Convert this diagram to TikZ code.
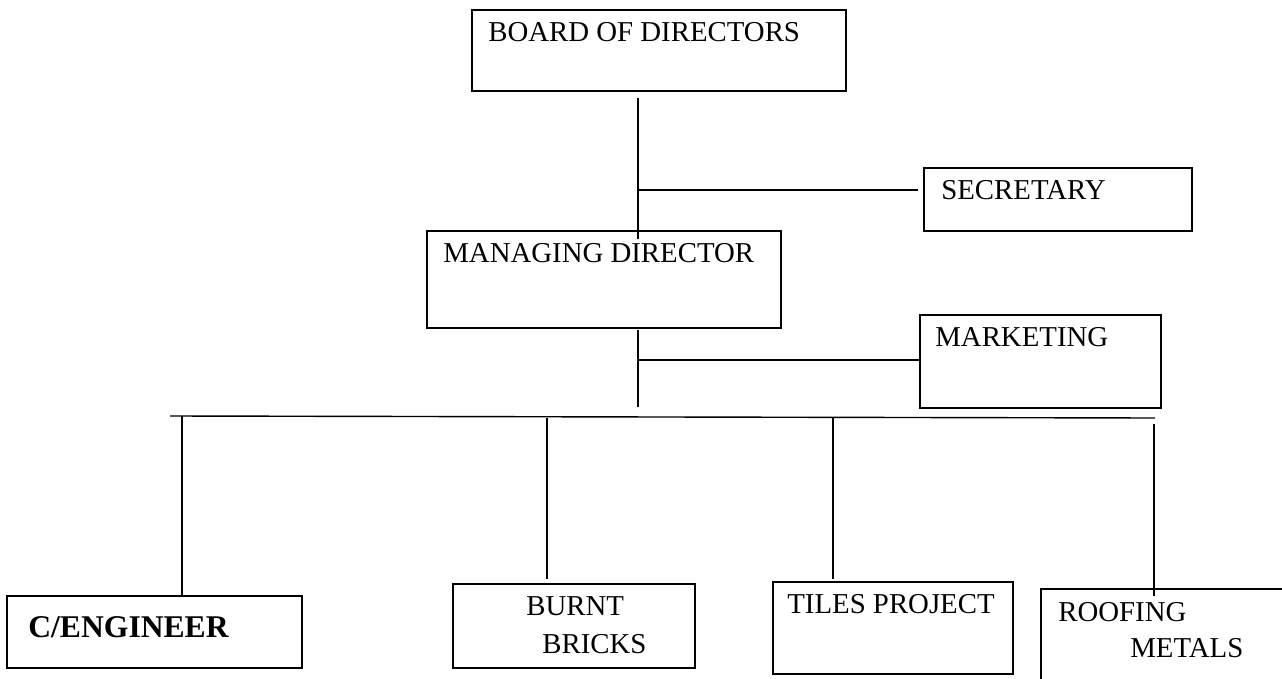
\documentclass[tikz,border=0pt]{standalone}
\usepackage{fontspec}
\setmainfont{Liberation Serif}
\usepackage{tikz}

\tikzset{
    unit/.style={draw, thick, rectangle, inner sep=0pt, line width=1.1pt},
    lbl/.style={anchor=base west, inner sep=0pt, font=\fontsize{16.4}{18}\selectfont},
    lblb/.style={anchor=base west, inner sep=0pt, font=\fontsize{18}{20}\selectfont\bfseries},
    link/.style={line width=0.8pt}
}

\begin{document}
\begin{tikzpicture}[x=0.02cm, y=-0.02cm]
    \useasboundingbox (0,0) rectangle (1282,679);
    \clip (0,0) rectangle (1282,679);

    % boxes
    \node[unit, minimum width=7.48cm, minimum height=1.62cm] (bod) at (659,50.5) {};
    \node[unit, minimum width=5.36cm, minimum height=1.26cm] (sec) at (1058,199.5) {};
    \node[unit, minimum width=7.08cm, minimum height=1.94cm] (md) at (604,279.5) {};
    \node[unit, minimum width=4.82cm, minimum height=1.86cm] (mkt) at (1040.5,361.5) {};
    \node[unit, minimum width=5.9cm, minimum height=1.44cm] (eng) at (154.5,632) {};
    \node[unit, minimum width=4.84cm, minimum height=1.68cm] (brk) at (574,626) {};
    \node[unit, minimum width=4.8cm, minimum height=1.84cm] (til) at (893,628) {};
    \node[unit, minimum width=4.98cm, minimum height=2.02cm] (roof) at (1165.5,639.5) {};

    % labels
    \node[lbl] (bodtxt) at (488,42) {BOARD OF DIRECTORS};
    \node[lbl] (sectxt) at (941,199) {SECRETARY};
    \node[lbl] (mdtxt) at (443,262) {MANAGING DIRECTOR};
    \node[lbl] (mkttxt) at (935,346) {MARKETING};
    \node[lblb] (engtxt) at (28,637) {C/ENGINEER};
    \node[lbl] (brktxt) at (526,615) {BURNT};
    \node[lbl] (brktxtb) at (542,653) {BRICKS};
    \node[lbl] (tiltxt) at (787,613) {TILES PROJECT};
    \node[lbl] (rooftxt) at (1058,621) {ROOFING};
    \node[lbl] (rooftxtb) at (1130,657) {METALS};

    % joints
    \coordinate (j1) at (638,190);
    \coordinate (j2) at (638,360);
    \coordinate (j3) at (638,407);
    \coordinate (busl) at (170,416);
    \coordinate (busr) at (1155,418);
    \coordinate (d1) at (182,416);
    \coordinate (d2) at (547,418);
    \coordinate (d3) at (833,418);
    \coordinate (d4) at (1154,424);

    % connectors
    \draw[link] ([yshift=-0.12cm]bod.south -| j1) -- ([yshift=-0.18cm]md.north -| j1);
    \draw[link] (j1) -- ([xshift=-0.1cm]sec.west |- j1);
    \draw[link] ([yshift=-0.02cm]md.south -| j2) -- (j3);
    \draw[link] (j2) -- (mkt.west |- j2);
    \draw[link] (busl) -- (busr);
    \draw[link] (d1) -- (eng.north -| d1);
    \draw[link] (d2) -- ([yshift=0.08cm]brk.north -| d2);
    \draw[link] (d3) -- ([yshift=0.04cm]til.north -| d3);
    \draw[link] (d4) -- ([yshift=-0.16cm]roof.north -| d4);
\end{tikzpicture}
\end{document}
